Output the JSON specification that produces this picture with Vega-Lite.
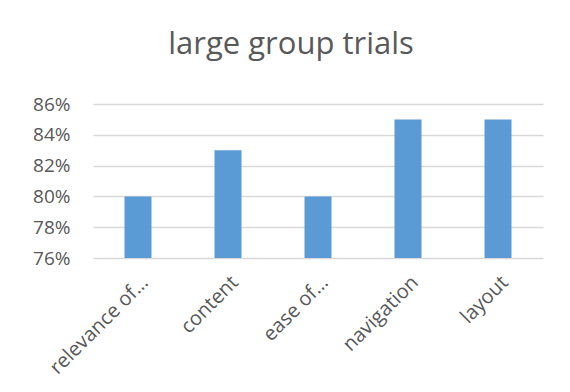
{
  "$schema": "https://vega.github.io/schema/vega-lite/v6.json",
  "width": 450,
  "height": 154,
  "autosize": "none",
  "padding": {"left": 93, "top": 104, "right": 27, "bottom": 134},
  "background": "white",
  "title": {
    "text": "large group trials",
    "font": "Open Sans",
    "fontSize": 31,
    "fontWeight": "normal",
    "color": "#595959",
    "anchor": "middle",
    "dx": -27,
    "offset": 34
  },
  "data": {
    "values": [
      {"category": "relevance of…", "value": 0.80},
      {"category": "content", "value": 0.83},
      {"category": "ease of…", "value": 0.80},
      {"category": "navigation", "value": 0.85},
      {"category": "layout", "value": 0.85}
    ]
  },
  "mark": {"type": "bar", "color": "#5b9bd5", "clip": true},
  "encoding": {
    "x": {
      "field": "category",
      "type": "nominal",
      "sort": null,
      "scale": {"paddingInner": 0.7, "paddingOuter": 0.35},
      "axis": {
        "title": null,
        "labelAngle": -45,
        "labelAlign": "right",
        "labelBaseline": "top",
        "labelFont": "Open Sans",
        "labelFontSize": 20,
        "labelColor": "#595959",
        "labelPadding": 14,
        "ticks": false,
        "domain": false,
        "labelLimit": 250
      }
    },
    "y": {
      "field": "value",
      "type": "quantitative",
      "scale": {"domain": [0.76, 0.86], "nice": false, "zero": false},
      "axis": {
        "title": null,
        "format": ".0%",
        "values": [0.76, 0.78, 0.80, 0.82, 0.84, 0.86],
        "labelFont": "Open Sans",
        "labelFontSize": 19,
        "labelColor": "#595959",
        "labelPadding": 23,
        "ticks": false,
        "domain": false,
        "gridColor": "#d9d9d9",
        "gridWidth": 1.5
      }
    }
  },
  "config": {"view": {"stroke": null}}
}
